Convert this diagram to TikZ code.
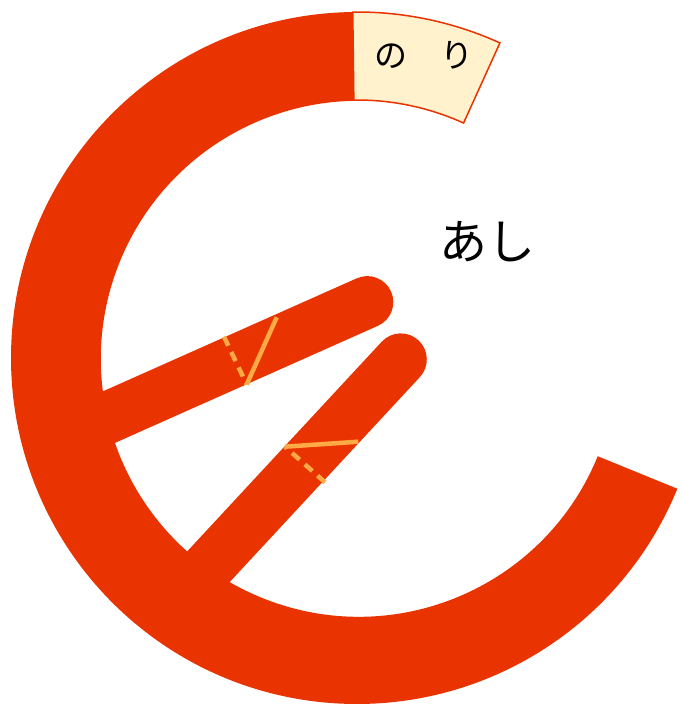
\documentclass[tikz,border=0pt]{standalone}
\usepackage{fontspec}
\newfontfamily\jpfont{Noto Sans CJK JP}
\definecolor{ringred}{HTML}{E93300}
\definecolor{markorange}{HTML}{FFAA44}
\definecolor{cream}{HTML}{FFF2CC}
\begin{document}
\begin{tikzpicture}[x=1pt,y=1pt,
  bar/.style={ringred, line width=52pt, line cap=round},
  solidmark/.style={markorange, line width=4.5pt},
  dashmark/.style={markorange, line width=4.5pt, dash pattern=on 10pt off 7pt},
  label/.style={inner sep=0pt, text=black}]
\useasboundingbox (0,0) rectangle (681,705);
\coordinate (C) at (357,347);
% thick ring
\fill[ringred, shift={(C)}] (90.7:346pt) arc[start angle=90.7, end angle=337.8, radius=346pt]
  -- (337.8:260pt) arc[start angle=337.8, end angle=90.7, radius=258pt] -- cycle;
% bars
\coordinate (b1s) at (80,275);
\coordinate (b1e) at (367.3,402.9);
\coordinate (b2s) at (172,99);
\coordinate (b2e) at (400.8,345.6);
\draw[bar] (b1s) -- (b1e);
\draw[bar] (b2s) -- (b2e);
% marks on bar 1
\coordinate (m1a) at (276.7,387.7);
\coordinate (m1v) at (246.7,320.5);
\coordinate (m1b) at (224,368.3);
\draw[solidmark] (m1a) -- (m1v);
\draw[dashmark] (m1b) -- (m1v);
% marks on bar 2
\coordinate (m2a) at (358.3,263.3);
\coordinate (m2v) at (285,258.3);
\coordinate (m2b) at (325,222.7);
\draw[solidmark] (m2a) -- (m2v);
\draw[dashmark] (m2b) -- (m2v);
% cream segment
\filldraw[fill=cream, draw=ringred, line width=1.5pt, shift={(C)}]
  (65.6:346pt) arc[start angle=65.6, end angle=90.7, radius=346pt]
  -- (90.7:258pt) arc[start angle=90.7, end angle=65.6, radius=258pt] -- cycle;
\node[label, font=\jpfont\fontsize{33}{33}\selectfont] (nori) at (424,650) {の　り};
\node[label, font=\jpfont\fontsize{48}{48}\selectfont] (ashi) at (487,463) {あし};
\end{tikzpicture}
\end{document}
